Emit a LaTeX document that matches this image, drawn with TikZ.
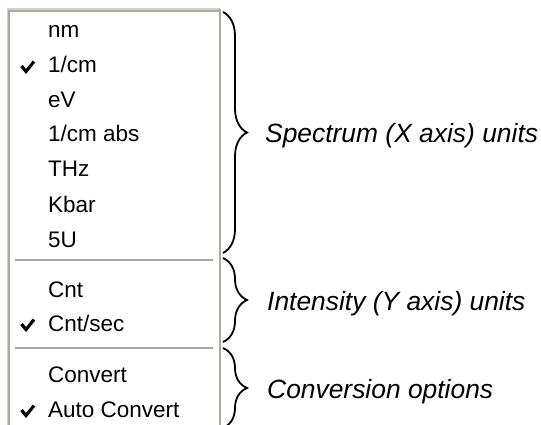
\documentclass[tikz,border=0pt]{standalone}
\usepackage{fontspec}
\setmainfont{Liberation Sans}
\usetikzlibrary{decorations.pathreplacing}
\definecolor{frameLight}{RGB}{212,208,200}
\definecolor{frameDark}{RGB}{172,168,158}
\definecolor{sepGray}{RGB}{172,168,153}
\tikzset{
  menuitem/.style={anchor=base west, inner sep=0pt, font=\fontsize{22.5}{26}\selectfont},
  grouplabel/.style={anchor=base west, inner sep=0pt, font=\fontsize{26.4}{30}\selectfont\itshape},
  groupbrace/.style={draw=black, line width=1.8pt, decorate,
    decoration={brace, amplitude=24pt, aspect=0.5}},
  checkmark/.style={line width=3.2pt, line join=miter, line cap=butt},
  separator/.style={draw=sepGray, line width=1.5pt}
}
\begin{document}
\begin{tikzpicture}[x=1pt, y=-1pt]
  \useasboundingbox (0,0) rectangle (541,425);
  \clip (0,0) rectangle (541,425);

  % menu frame (open at the bottom)
  \draw[frameLight, line width=2pt] (7.5,430) -- (7.5,9.5) -- (220,9.5);
  \draw[frameDark, line width=1.2pt] (9,430) -- (9,11) -- (218.5,11);
  \draw[frameDark, line width=2pt] (220,9.5) -- (220,430);

  % unit entries
  \node[menuitem] (nm)    at (48,38)  {nm};
  \node[menuitem] (cm)    at (48,73)  {1/cm};
  \node[menuitem] (ev)    at (48,108) {eV};
  \node[menuitem] (cmabs) at (48,142) {1/cm abs};
  \node[menuitem] (thz)   at (48,177) {THz};
  \node[menuitem] (kbar)  at (48,212) {Kbar};
  \node[menuitem] (su)    at (48,247) {5U};

  \draw[separator] (15,260) -- (213,260);

  \node[menuitem] (cnt)    at (48,297) {Cnt};
  \node[menuitem] (cntsec) at (48,331) {Cnt/sec};

  \draw[separator] (15,348) -- (213,348);

  \node[menuitem] (conv)     at (48,382) {Convert};
  \node[menuitem] (autoconv) at (48,417) {Auto Convert};

  % check marks of the selected entries
  \foreach \yy in {73,331,417}{
    \draw[checkmark] (21.5,\yy-7) -- (26,\yy-1.5) -- (34,\yy-11.5);
  }

  % group braces
  \coordinate (b1top) at (223,12);
  \coordinate (b1bot) at (223,253);
  \coordinate (b2top) at (223,258);
  \coordinate (b2bot) at (223,342);
  \coordinate (b3top) at (223,348);
  \coordinate (b3bot) at (223,428);
  \draw[groupbrace] (b1top) -- (b1bot);
  \draw[groupbrace] (b2top) -- (b2bot);
  \draw[groupbrace] (b3top) -- (b3bot);

  % group labels
  \node[grouplabel] (lx) at (265,143) {Spectrum (X axis) units};
  \node[grouplabel] (ly) at (267,310) {Intensity (Y axis) units};
  \node[grouplabel] (lc) at (267,398) {Conversion options};
\end{tikzpicture}
\end{document}
